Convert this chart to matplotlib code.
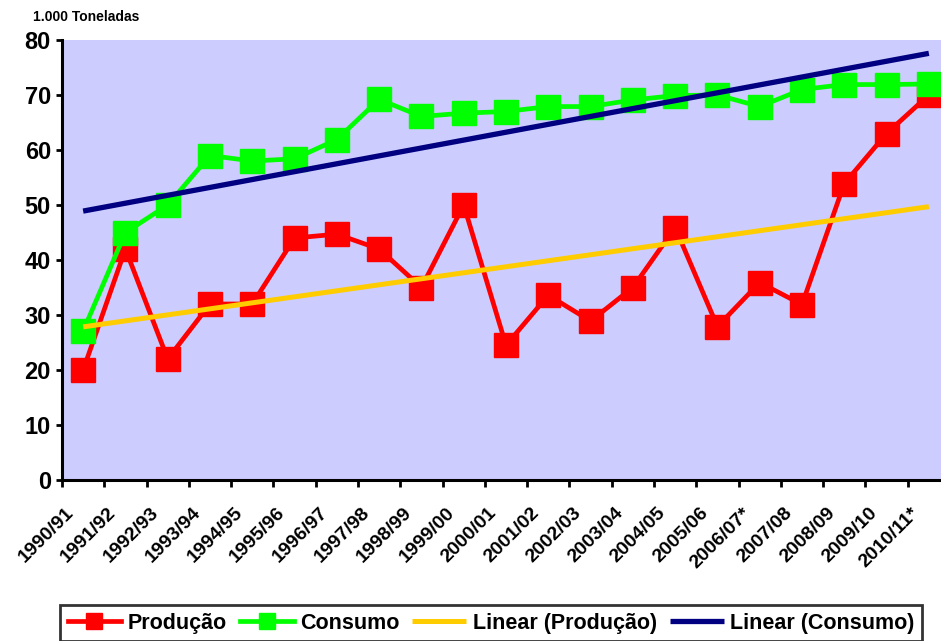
import matplotlib.pyplot as plt
import matplotlib.transforms as mtransforms
import numpy as np

plt.rcParams['font.family'] = ['Liberation Sans', 'DejaVu Sans']
plt.rcParams['font.weight'] = 'bold'

# Safras (eixo x)
safras = ['1990/91', '1991/92', '1992/93', '1993/94', '1994/95', '1995/96', '1996/97',
          '1997/98', '1998/99', '1999/00', '2000/01', '2001/02', '2002/03', '2003/04',
          '2004/05', '2005/06', '2006/07*', '2007/08', '2008/09', '2009/10', '2010/11*']

# Valores em 1.000 toneladas
producao = [20, 42, 22, 32, 32, 44, 44.7, 42, 35, 50, 24.5, 33.6, 28.9, 35,
            45.9, 27.9, 35.9, 31.9, 53.9, 63, 70]
consumo = [27.1, 45, 50, 59, 58, 58.4, 61.9, 69.2, 66.1, 66.7, 67, 67.9, 67.9, 69.1,
           69.9, 70, 67.9, 71, 71.9, 71.9, 72]

x = np.arange(len(safras))

# Linhas de tendência (regressão linear, como no Excel)
a_p, b_p = np.polyfit(x, producao, 1)
a_c, b_c = np.polyfit(x, consumo, 1)

fig = plt.figure(figsize=(9.41, 6.41), dpi=100)
ax = fig.add_axes([62 / 941, 1 - 480 / 641, 888 / 941, 440 / 641])
ax.set_facecolor('#CCCCFF')

ax.plot(x, producao, color='#FF0000', lw=3.4, marker='s', ms=17.5, mec='#FF0000',
        label='Produção', zorder=3)
ax.plot(x, consumo, color='#00FF00', lw=3.4, marker='s', ms=17.5, mec='#00FF00',
        label='Consumo', zorder=4)
ax.plot(x, a_p * x + b_p, color='#FFCC00', lw=3.6, label='Linear (Produção)',
        zorder=5, solid_capstyle='butt')
ax.plot(x, a_c * x + b_c, color='#000080', lw=3.8, label='Linear (Consumo)',
        zorder=5, solid_capstyle='butt')

ax.set_xlim(-0.5, len(safras) - 0.5)
ax.set_ylim(0, 80)
ax.set_yticks(np.arange(0, 81, 10))
ax.tick_params(axis='y', labelsize=17, width=2, length=4, direction='out', pad=4)

# marcas entre categorias, rótulos no centro
ax.set_xticks(np.arange(len(safras)) - 0.5)
ax.set_xticklabels([])
ax.tick_params(axis='x', which='major', width=2, length=5, direction='out')
ax.set_xticks(x, minor=True)
ax.set_xticklabels(safras, minor=True, rotation=45, ha='right', va='center',
                   rotation_mode='anchor', fontsize=14)
ax.tick_params(axis='x', which='minor', length=0, pad=22)
shift = mtransforms.ScaledTranslation(-12 / 100, 0, fig.dpi_scale_trans)
for lab in ax.get_xticklabels(minor=True):
    lab.set_transform(lab.get_transform() + shift)

for s in ['top', 'right']:
    ax.spines[s].set_visible(False)
for s in ['left', 'bottom']:
    ax.spines[s].set_linewidth(2.2)

fig.text(33 / 941, 1 - 17 / 641, '1.000 Toneladas', fontsize=10, fontweight='bold',
         va='center', ha='left')

leg = fig.legend(loc='upper left', bbox_to_anchor=(60 / 941, 1 - 605 / 641), ncol=4,
                 fontsize=15.5, frameon=True, fancybox=False, edgecolor='black',
                 handlelength=2.5, columnspacing=0.6, handletextpad=0.3,
                 borderpad=0.35, borderaxespad=0)
leg.get_frame().set_linewidth(2)
for h in leg.legend_handles:
    h.set_markersize(12)

fig.savefig('out.png', dpi=100)
